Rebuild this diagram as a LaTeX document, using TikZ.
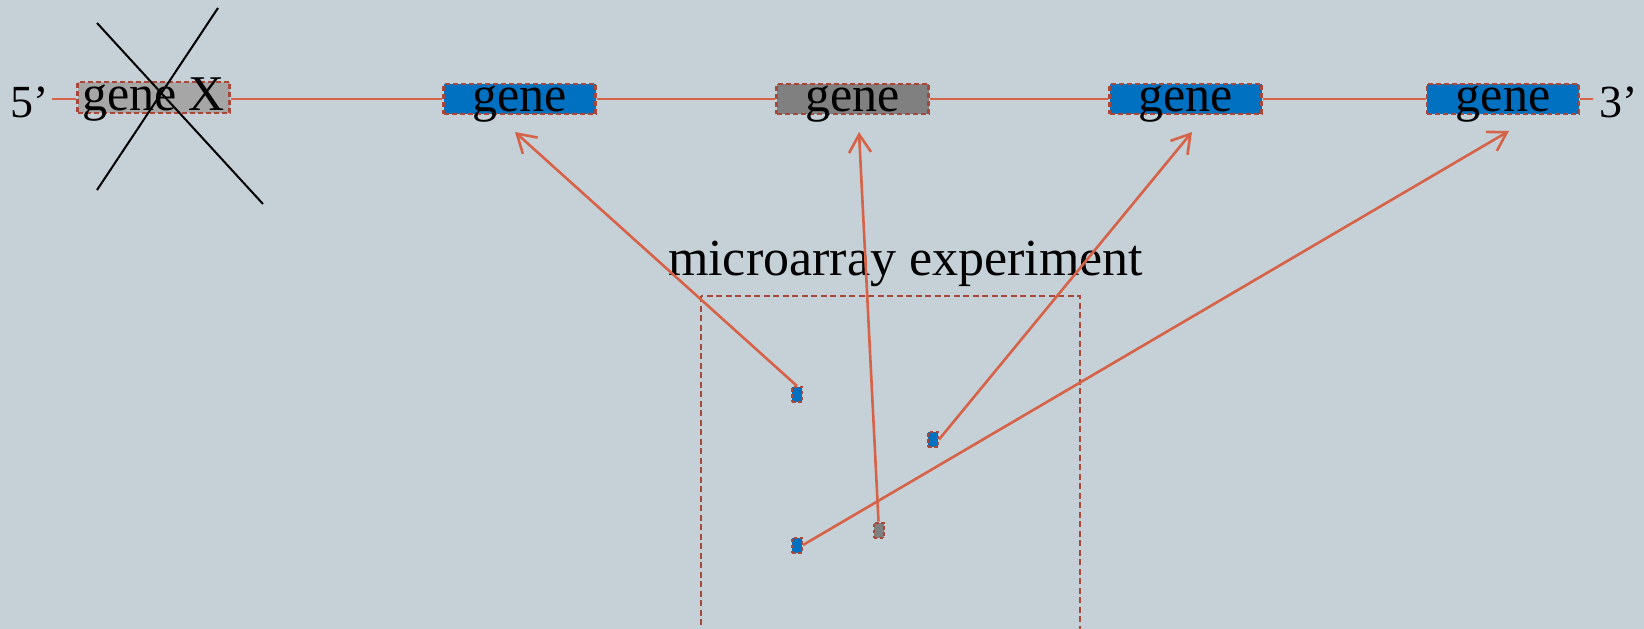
\documentclass[tikz,border=0pt]{standalone}
\usepackage{fontspec}
\setmainfont{Liberation Serif}
\usetikzlibrary{arrows.meta}
\definecolor{bg}{RGB}{197,208,215}
\definecolor{conn}{RGB}{214,99,72}
\definecolor{brd}{RGB}{168,72,58}
\definecolor{gblue}{RGB}{0,112,192}
\definecolor{ggray}{RGB}{128,128,128}
\definecolor{glight}{RGB}{166,166,166}
\tikzset{
  genebox/.style={draw=brd, line width=2.6pt, dash pattern=on 5pt off 3pt,
    minimum width=152pt, inner xsep=0pt, inner ysep=0pt,
    text height=27pt, text depth=3pt,
    font=\fontsize{50}{56}\selectfont},
  spot/.style={draw=brd, line width=2pt, dash pattern=on 3.5pt off 2.5pt,
    minimum width=10pt, minimum height=15pt, inner sep=0pt},
  mainline/.style={draw=conn, line width=2pt},
  arr/.style={draw=conn, line width=2.6pt, -{Straight Barb[length=18pt,width=22pt,line width=2.6pt]}},
  endlabel/.style={font=\fontsize{46}{52}\selectfont, inner sep=0pt},
  crossline/.style={draw=black, line width=2pt},
  frame/.style={draw=brd, line width=2.4pt, dash pattern=on 6pt off 3.5pt}
}
\begin{document}
\begin{tikzpicture}[x=1pt,y=-1pt]
\fill[bg] (0,0) rectangle (1644,629);
\useasboundingbox (0,0) rectangle (1644,629);

% end labels
\node[endlabel, anchor=base west] (five) at (10,117) {5’};
\node[endlabel, anchor=base west] (three) at (1599,117) {3’};
\coordinate (lstart) at (52,99);
\coordinate (lend) at (1593,99);

% gene boxes
\node[genebox, fill=glight, text height=28pt] (gX) at (153.5,97.5) {gene X};
\node[genebox, fill=gblue] (g2) at (519.5,99) {gene};
\node[genebox, fill=ggray] (g3) at (852.5,99) {gene};
\node[genebox, fill=gblue] (g4) at (1185.5,99) {gene};
\node[genebox, fill=gblue] (g5) at (1503,99) {gene};

% chromosome line
\draw[mainline] (lstart) -- (gX.west |- lstart);
\draw[mainline] (gX.east |- lstart) -- (g2.west);
\draw[mainline] (g2.east) -- (g3.west);
\draw[mainline] (g3.east) -- (g4.west);
\draw[mainline] (g4.east) -- (g5.west);
\draw[mainline] (g5.east) -- (lend);

% cross over gene X
\draw[crossline] (97,23) -- (263,204);
\draw[crossline] (218,8) -- (97,190);

% microarray
\node[font=\fontsize{52}{58}\selectfont, anchor=base, inner sep=0pt] (mlabel) at (905.5,275) {microarray experiment};
\draw[frame] (701,296) rectangle (1080,640);

\node[spot, fill=gblue] (sA) at (797,394.5) {};
\node[spot, fill=gblue] (sB) at (933,439.5) {};
\node[spot, fill=gblue] (sC) at (797,545) {};
\node[spot, fill=ggray] (sD) at (878.5,530) {};

\coordinate (t1) at (515,132);
\coordinate (t2) at (859,132);
\coordinate (t3) at (1192,132);
\coordinate (t4) at (1509,131);

\draw[arr] (sA.north) -- (t1);
\draw[arr] (sD.north) -- (t2);
\draw[arr] (sB.east) -- (t3);
\draw[arr] (sC.east) -- (t4);
\end{tikzpicture}
\end{document}
